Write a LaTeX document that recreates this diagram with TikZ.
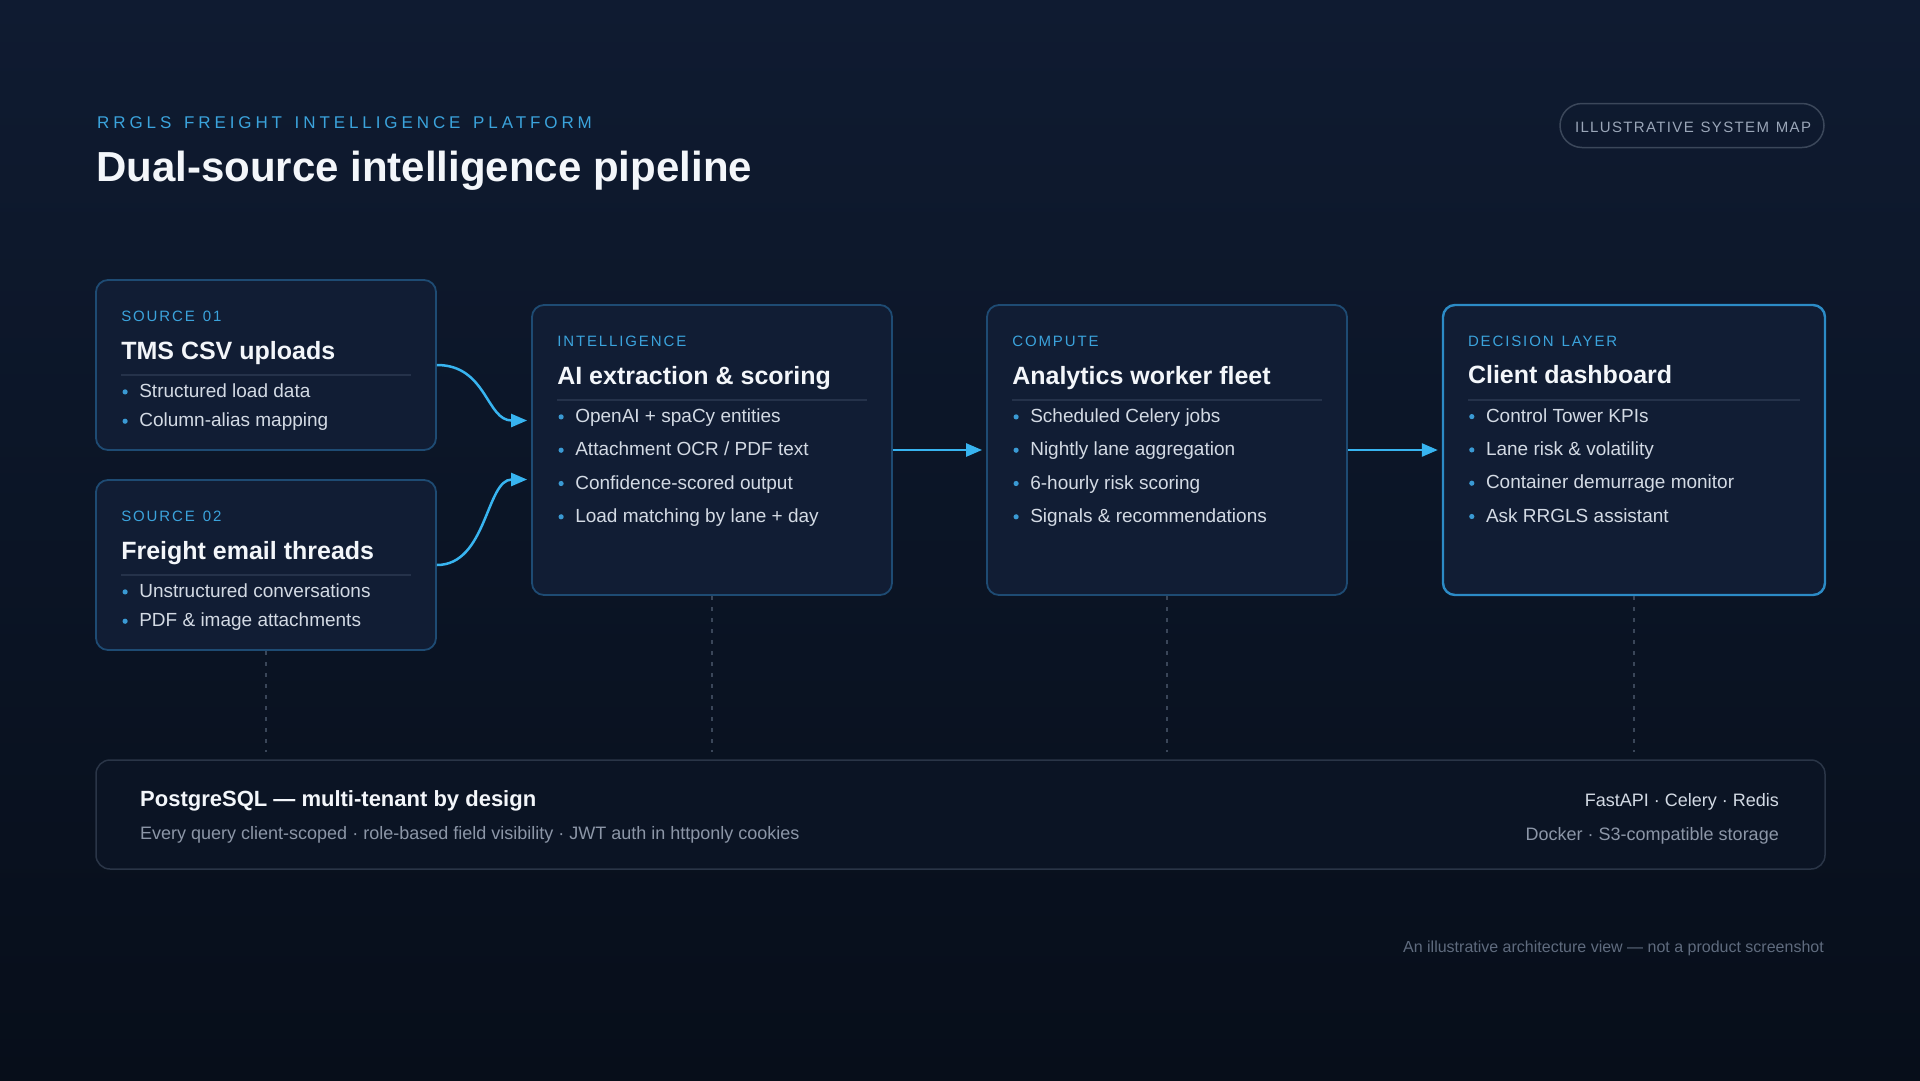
\documentclass[tikz,border=0pt]{standalone}
\usepackage{fontspec}
\setmainfont{Liberation Sans}
\newfontfamily\subfont[LetterSpace=23]{Liberation Sans}
\newfontfamily\labfont[LetterSpace=12.5]{Liberation Sans}
\newfontfamily\pillfont[LetterSpace=9]{Liberation Sans}
\usetikzlibrary{arrows.meta,calc}
\definecolor{bgtop}{HTML}{0F1B31}
\definecolor{bgbot}{HTML}{070E1A}
\definecolor{accent}{HTML}{3BA3DC}
\definecolor{ttlc}{HTML}{F3F6FA}
\definecolor{itemc}{HTML}{D3DAE4}
\definecolor{dotc}{HTML}{3A9AD4}
\definecolor{sepc}{HTML}{25324A}
\definecolor{cardfill}{HTML}{111D34}
\definecolor{cardline}{HTML}{1E4B73}
\definecolor{decline}{HTML}{2C8BC6}
\definecolor{arrowc}{HTML}{38B4F0}
\definecolor{botfill}{HTML}{0B1424}
\definecolor{botline}{HTML}{2A3547}
\definecolor{grayc}{HTML}{8C96A7}
\definecolor{footc}{HTML}{5F6B7E}
\definecolor{pillline}{HTML}{3B475A}
\definecolor{pilltext}{HTML}{9AA6B8}
\definecolor{dotline}{HTML}{3A4659}
\newcommand\lsp{\ \hspace{2pt}}
\tikzset{
  card/.style={draw=cardline, line width=1.8pt, fill=cardfill, rounded corners=12pt, inner sep=0pt},
  deccard/.style={card, draw=decline, line width=2.4pt},
  botbox/.style={draw=botline, line width=1.5pt, fill=botfill, rounded corners=14pt, inner sep=0pt},
  lab/.style={inner sep=0pt, text=accent, font=\labfont\fontsize{15}{18}\selectfont},
  ttl/.style={inner sep=0pt, text=ttlc, font=\fontsize{25}{30}\selectfont\bfseries},
  item/.style={inner sep=0pt, text=itemc, font=\fontsize{19}{23}\selectfont},
  sepline/.style={draw=sepc, line width=1.5pt},
  flow/.style={draw=arrowc, line width=2.5pt, -{Triangle[length=16pt,width=13pt]}, shorten >=4pt},
  vdots/.style={draw=dotline, line width=1.5pt, dash pattern=on 4pt off 7pt, shorten >=7pt},
}
\newcommand\cardtext[5]{%
  \node[lab, anchor=base west] (#1-lab) at ($(#1.north west)+(26,42.7)$) {#2};
  \node[ttl, anchor=base west] (#1-ttl) at ($(#1.north west)+(26,80)$) {#3};
  \draw[sepline] ($(#1.north west)+(26,96)$) -- ($(#1.north east)+(-26,96)$);
  \foreach \t [count=\i from 0] in {#5} {
    \fill[dotc] ($(#1.north west)+(30,112.8+\i*#4)$) circle (2.6);
    \node[item, anchor=base west] (#1-b\i) at ($(#1.north west)+(44,118.3+\i*#4)$) {\t};
  }
}
\begin{document}
\begin{tikzpicture}[x=1pt,y=-1pt]
\shade[top color=bgtop, bottom color=bgbot] (0,0) rectangle (1920,1080);
\useasboundingbox (0,0) rectangle (1920,1080);

% header
\node[inner sep=0pt, anchor=base west, text=accent, font=\subfont\fontsize{17}{20}\selectfont] (kicker) at (97,128.3) {RRGLS\ \hspace{4pt}FREIGHT\ \hspace{4pt}INTELLIGENCE\ \hspace{4pt}PLATFORM};
\node[inner sep=0pt, anchor=base west, text=ttlc, font=\fontsize{42}{48}\selectfont\bfseries] (title) at (96,181.7) {Dual-source intelligence pipeline};
\node[draw=pillline, line width=1.5pt, rounded corners=22pt, minimum width=264pt, minimum height=44pt, inner sep=0pt] (pill) at (1692,125.5) {};
\node[inner sep=0pt, anchor=base, text=pilltext, font=\pillfont\fontsize{15}{18}\selectfont] (pilltxt) at (1693,132.3) {ILLUSTRATIVE\ \hspace{1.3pt}SYSTEM\ \hspace{1.3pt}MAP};

% cards
\node[card, minimum width=340pt, minimum height=170pt] (s1) at (266,365) {};
\node[card, minimum width=340pt, minimum height=170pt] (s2) at (266,565) {};
\node[card, minimum width=360pt, minimum height=290pt] (intel) at (712,450) {};
\node[card, minimum width=360pt, minimum height=290pt] (comp) at (1167,450) {};
\node[deccard, minimum width=382pt, minimum height=290pt] (dec) at (1634,450) {};

\cardtext{s1}{SOURCE\lsp 01}{TMS CSV uploads}{29.3}{Structured load data,Column-alias mapping}
\cardtext{s2}{SOURCE\lsp 02}{Freight email threads}{29.3}{Unstructured conversations,PDF \& image attachments}
\cardtext{intel}{INTELLIGENCE}{AI extraction \& scoring}{33.3}{OpenAI + spaCy entities,Attachment OCR / PDF text,Confidence-scored output,Load matching by lane + day}
\cardtext{comp}{COMPUTE}{Analytics worker fleet}{33.3}{Scheduled Celery jobs,Nightly lane aggregation,6-hourly risk scoring,Signals \& recommendations}
\cardtext{dec}{DECISION\lsp LAYER}{Client dashboard}{33.3}{Control Tower KPIs,Lane risk \& volatility,Container demurrage monitor,Ask RRGLS assistant}

% bottom box
\node[botbox, minimum width=1729pt, minimum height=109pt] (bot) at (960.5,814.5) {};
\node[inner sep=0pt, anchor=base west, text=ttlc, font=\fontsize{22}{26}\selectfont\bfseries] (pgtitle) at (140,806) {PostgreSQL — multi-tenant by design};
\node[inner sep=0pt, anchor=base west, text=grayc, font=\fontsize{18}{22}\selectfont] (pgsub) at (140,839.5) {Every query client-scoped · role-based field visibility · JWT auth in httponly cookies};
\node[inner sep=0pt, anchor=base east, text=itemc, font=\fontsize{18}{22}\selectfont] (stack1) at (1779,806.5) {FastAPI · Celery · Redis};
\node[inner sep=0pt, anchor=base east, text=grayc, font=\fontsize{18}{22}\selectfont] (stack2) at (1779,840) {Docker · S3-compatible storage};

% footer
\node[inner sep=0pt, anchor=base east, text=footc, font=\fontsize{16}{19}\selectfont] (foot) at (1824,952.3) {An illustrative architecture view — not a product screenshot};

% connectors
\coordinate (in1) at ($(intel.west)+(0,-29.5)$);
\coordinate (in2) at ($(intel.west)+(0,29.5)$);
\draw[flow] (s1.east) .. controls +(50,0) and +(-45,0) .. (in1);
\draw[flow] (s2.east) .. controls +(50,0) and +(-45,0) .. (in2);
\draw[flow] (intel.east) -- (comp.west);
\draw[flow] (comp.east) -- (dec.west);

% dotted drops
\draw[vdots] (s2.south) -- (s2.south |- bot.north);
\draw[vdots] (intel.south) -- (intel.south |- bot.north);
\draw[vdots] (comp.south) -- (comp.south |- bot.north);
\draw[vdots] (dec.south) -- (dec.south |- bot.north);
\end{tikzpicture}
\end{document}
